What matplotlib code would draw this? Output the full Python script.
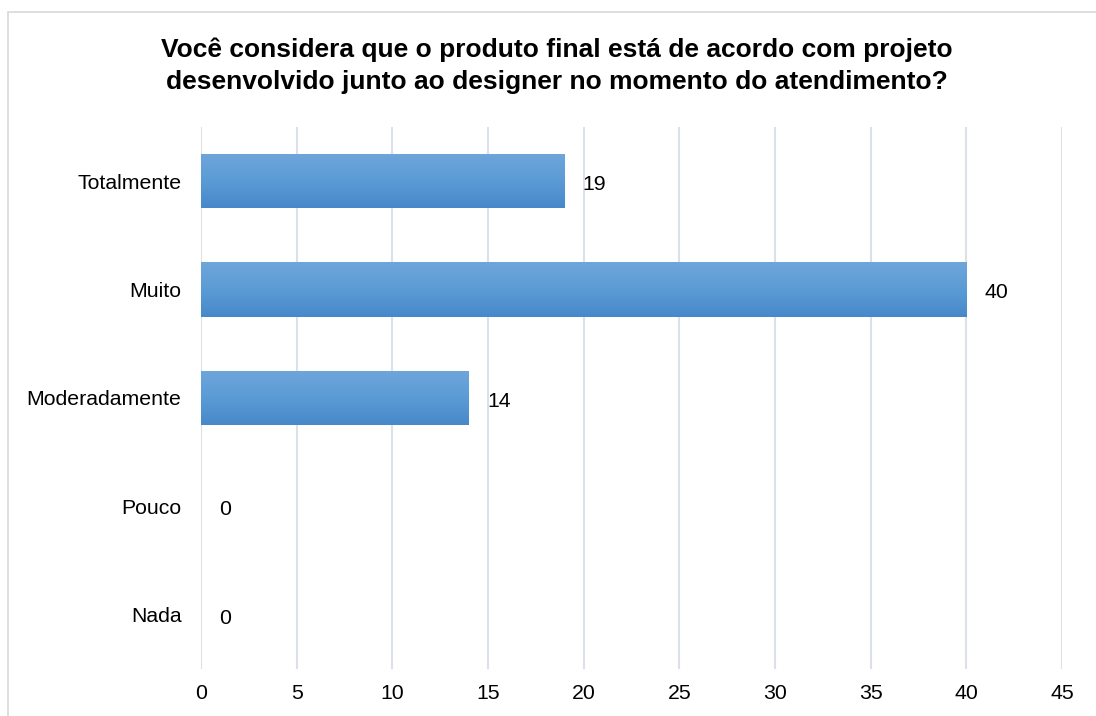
import numpy as np
import matplotlib
matplotlib.use("Agg")
import matplotlib.pyplot as plt
from matplotlib.colors import LinearSegmentedColormap
from matplotlib.patches import Rectangle

plt.rcParams['font.family'] = ['Liberation Sans', 'DejaVu Sans']

categories = ["Totalmente", "Muito", "Moderadamente", "Pouco", "Nada"]
values = [19, 40, 14, 0, 0]
xticks = [0, 5, 10, 15, 20, 25, 30, 35, 40, 45]
title = ("Você considera que o produto final está de acordo com projeto\n"
         "desenvolvido junto ao designer no momento do atendimento?")

W, H = 1096, 716
fig = plt.figure(figsize=(W / 100, H / 100), dpi=100)
fig.patch.set_facecolor("white")

# outer chart frame
fig.patches.append(Rectangle((8 / W, -0.05), 1.2, 1 - 12 / H + 0.05,
                             transform=fig.transFigure, fill=False,
                             edgecolor="#D9D9D9", linewidth=1.2))

ax = fig.add_axes([201 / W, 1 - 669 / H, (1062 - 201) / W, (669 - 127) / H])
ax.set_xticks(xticks)
ax.set_yticks(range(len(categories)))
ax.set_yticklabels(categories)
ax.tick_params(axis="both", length=0, labelsize=15.3, colors="#000000")
ax.tick_params(axis="x", pad=11)
ax.tick_params(axis="y", pad=14)
ax.grid(axis="x", color="#DCE0E8", linewidth=1.5)
ax.set_axisbelow(True)
for s in ax.spines.values():
    s.set_visible(False)

# bars with a light-to-dark vertical gradient fill
cmap = LinearSegmentedColormap.from_list("bar", ["#6FA6DB", "#5B9BD5", "#4788CA"])
grad = np.linspace(0, 1, 256).reshape(-1, 1)
bh = 0.5
bars = ax.barh(range(len(categories)), values, height=bh, color="none", edgecolor="none")
for i, (b, v) in enumerate(zip(bars, values)):
    if v > 0:
        im = ax.imshow(grad, cmap=cmap, aspect="auto", interpolation="bilinear",
                       extent=(0, v, i + bh / 2, i - bh / 2), zorder=2)
        im.set_clip_path(b)
    ax.text(v + 0.95, i + 0.03, f"{v}", va="center", ha="left", fontsize=15.3,
            color="#000000")
ax.set_xlim(0, 45)
ax.set_ylim(len(categories) - 0.5, -0.5)

fig.text(557 / W, 1 - 66 / H, title, ha="center", va="center", fontsize=19,
         fontweight="bold", linespacing=1.4)

fig.savefig("out.png", dpi=100)
